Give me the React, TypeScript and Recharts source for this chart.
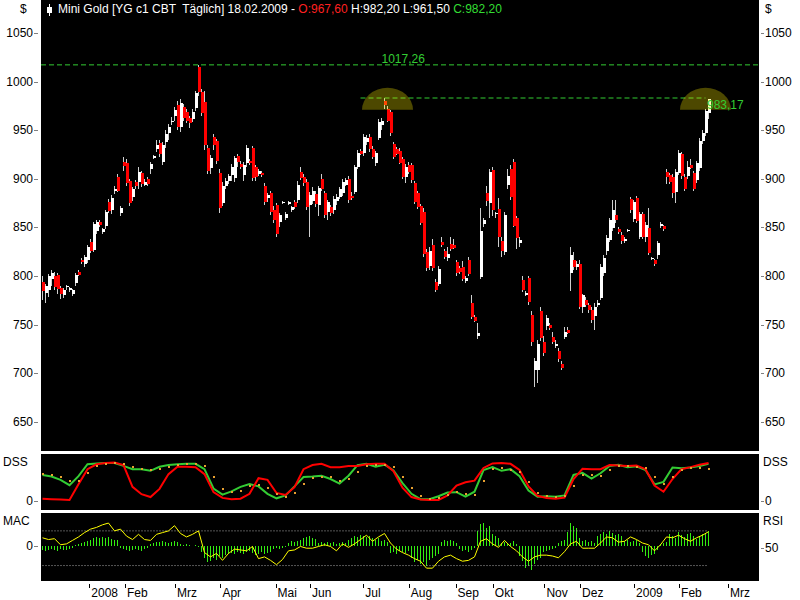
import React from "react";
import { ComposedChart, Bar, Line, XAxis, YAxis, ReferenceLine, ReferenceDot } from "recharts";

const FONT = '"Liberation Sans", Arial, sans-serif';

// one candle per session slot: [open, high, low, close]
const CANDLES_Q1 = [
  [794, 800, 775, 785], [783, 792, 772, 790], [786, 802, 778, 800], [797, 806, 790, 803], [800, 804, 786, 789],
  [801, 803, 782, 787], [788, 790, 776, 782], [781, 788, 777, 786], [789, 791, 786, 790], [786, 789, 784, 788],
  [782, 787, 779, 786], [793, 803, 790, 801], [804, 806, 800, 801], [817, 819, 812, 814], [812, 822, 809, 820],
  [816, 832, 813, 830], [835, 838, 824, 826], [827, 856, 825, 854], [846, 858, 843, 856], [856, 858, 850, 853],
  [845, 849, 843, 848], [851, 868, 848, 866], [876, 879, 865, 867], [868, 883, 864, 880], [887, 893, 884, 890],
  [902, 905, 886, 888], [865, 872, 862, 870], [917, 922, 908, 913], [916, 920, 893, 896], [898, 900, 872, 875],
  [881, 892, 877, 890], [897, 899, 890, 893], [897, 912, 890, 907], [906, 908, 892, 895], [894, 900, 893, 897],
  [900, 902, 893, 895], [910, 917, 905, 915], [921, 925, 920, 924], [931, 940, 928, 935], [937, 940, 922, 926],
  [917, 938, 914, 935], [938, 950, 932, 946], [947, 956, 940, 953], [958, 964, 955, 960], [965, 974, 960, 971],
  [976, 980, 950, 953], [953, 982, 948, 978], [974, 977, 960, 963], [969, 972, 957, 960], [963, 965, 952, 957],
  [962, 972, 958, 969], [973, 990, 970, 988], [1015, 1017, 985, 989], [989, 992, 965, 968], [979, 990, 930, 935],
  [932, 935, 905, 908], [911, 925, 905, 921], [943, 946, 930, 935], [939, 941, 915, 918], [906, 910, 865, 870],
];
const CANDLES_Q2 = [
  [875, 897, 872, 893], [893, 901, 890, 898], [898, 905, 895, 903], [904, 915, 898, 912], [901, 924, 897, 921],
  [924, 926, 912, 917], [915, 918, 910, 912], [904, 917, 898, 914], [916, 935, 912, 932], [918, 920, 914, 916],
  [932, 934, 898, 901], [912, 914, 898, 902], [905, 910, 903, 908], [906, 908, 902, 904], [893, 896, 873, 876],
  [880, 885, 876, 883], [885, 887, 863, 866], [868, 872, 855, 858], [873, 875, 840, 843], [856, 865, 850, 863],
  [875, 877, 874, 876], [860, 866, 858, 864], [874, 877, 873, 876], [868, 872, 866, 871], [876, 878, 869, 871],
  [878, 898, 875, 894], [907, 912, 899, 901], [902, 905, 893, 896], [897, 900, 868, 871], [873, 886, 840, 883],
  [877, 892, 874, 888], [884, 887, 871, 874], [873, 893, 862, 891], [900, 905, 888, 890], [885, 887, 860, 863],
  [866, 878, 858, 876], [871, 873, 862, 865], [868, 882, 864, 879], [877, 884, 873, 881], [881, 892, 879, 890],
  [885, 900, 882, 897], [894, 901, 893, 899], [900, 903, 875, 878], [882, 886, 878, 880], [886, 914, 884, 912],
  [912, 930, 910, 927], [929, 931, 925, 926], [927, 946, 924, 943], [938, 945, 935, 942], [943, 946, 928, 931],
  [931, 934, 920, 922], [916, 929, 913, 927], [942, 962, 940, 958], [955, 963, 950, 960],
];
const CANDLES_Q3 = [
  [980, 983, 972, 976], [972, 975, 958, 960], [969, 971, 944, 947], [936, 938, 920, 922], [931, 933, 925, 926],
  [929, 932, 915, 916], [920, 922, 900, 902], [902, 915, 896, 912], [914, 917, 905, 907], [914, 916, 896, 899],
  [896, 898, 874, 876], [885, 888, 869, 871], [872, 874, 853, 855], [866, 870, 820, 823], [825, 828, 805, 808],
  [810, 830, 806, 826], [832, 838, 805, 808], [794, 797, 784, 786], [792, 810, 790, 807], [835, 840, 830, 832],
  [826, 828, 818, 820], [819, 830, 815, 823], [833, 840, 826, 828], [832, 838, 828, 829], [814, 817, 800, 803],
  [808, 810, 802, 804], [809, 815, 795, 797], [795, 800, 793, 798], [816, 820, 800, 802], [772, 780, 756, 758],
  [758, 760, 753, 754], [738, 752, 735, 741], [799, 870, 797, 846], [854, 860, 850, 858], [885, 893, 872, 877],
  [875, 910, 860, 907], [909, 912, 862, 868], [864, 866, 860, 865], [869, 880, 830, 840], [836, 840, 820, 826],
  [825, 866, 822, 863], [894, 910, 890, 903], [910, 914, 878, 881], [917, 920, 850, 852], [860, 862, 828, 839],
  [834, 840, 830, 837], [796, 800, 784, 786], [781, 785, 779, 783], [798, 800, 770, 773], [760, 764, 728, 732],
  [703, 716, 686, 713], [703, 734, 690, 730], [764, 768, 733, 736], [732, 738, 718, 721], [749, 760, 745, 757],
  [750, 752, 745, 747], [737, 742, 730, 732], [728, 734, 726, 730], [723, 726, 712, 715], [710, 713, 703, 705],
  [737, 748, 735, 742], [745, 748, 740, 741],
];
const CANDLES_Q4 = [
  [803, 830, 785, 822], [817, 825, 806, 809], [809, 815, 806, 812], [812, 816, 766, 768], [768, 782, 762, 780],
  [775, 778, 768, 770], [770, 772, 762, 765], [765, 768, 752, 755], [759, 772, 745, 768], [770, 775, 768, 772],
  [777, 812, 775, 809], [803, 822, 800, 819], [826, 842, 822, 839], [837, 860, 835, 858], [849, 878, 846, 868],
  [863, 878, 855, 858], [848, 850, 843, 845], [842, 845, 833, 836], [836, 840, 834, 838], [846, 848, 845, 847],
  [879, 881, 865, 868], [859, 878, 856, 876], [880, 882, 855, 857], [840, 866, 838, 864], [864, 866, 838, 840],
  [840, 856, 835, 853], [849, 870, 822, 824], [818, 820, 816, 819], [816, 818, 810, 812], [822, 836, 818, 834],
  [851, 856, 849, 854], [851, 853, 846, 848], [907, 910, 895, 902], [904, 906, 895, 897], [902, 905, 880, 885],
  [886, 910, 875, 907], [906, 930, 904, 927], [926, 928, 900, 903], [902, 905, 888, 890], [903, 918, 900, 912],
  [914, 920, 910, 911], [906, 908, 888, 890], [899, 918, 896, 916], [911, 942, 908, 939], [939, 950, 936, 947],
  [947, 972, 944, 970], [967.6, 982.2, 961.5, 982.2],
];

// DSS, sampled every third slot
const DSS_LINE = [8, 7, 6, 5, 43, 80, 92, 95, 96, 90, 37, 19, 12, 32, 68, 86, 86, 85, 68, 24, 10, 7, 8, 20, 58,
  54, 22, 17, 36, 80, 90, 93, 85, 85, 88, 88, 92, 93, 93, 75, 35, 12, 6, 5, 5, 16, 40, 48, 52, 83, 94, 95, 93,
  78, 38, 15, 10, 8, 11, 56, 81, 80, 80, 90, 89, 88, 89, 80, 40, 25, 56, 80, 85, 91, 95];
const DSS_TRIGGER = [66, 62, 54, 41, 63, 92, 94, 95, 95, 88, 80, 80, 76, 86, 90, 92, 93, 93, 80, 33, 18, 26, 37,
  44, 38, 20, 9, 16, 38, 61, 62, 64, 56, 45, 64, 90, 93, 86, 91, 77, 46, 20, 7, 7, 14, 23, 24, 13, 25, 78, 85,
  76, 80, 63, 28, 13, 14, 13, 16, 66, 71, 57, 70, 88, 91, 85, 87, 78, 43, 49, 84, 82, 84, 88, 93];
const DSS_SIGNAL = [68, 65, 60, 52, 50, 70, 88, 93, 95, 92, 86, 80, 78, 80, 85, 90, 92, 93, 88, 60, 32, 24, 28,
  38, 42, 35, 20, 12, 22, 45, 58, 62, 60, 52, 55, 72, 88, 90, 89, 85, 62, 33, 15, 8, 10, 18, 24, 20, 16, 50, 80,
  84, 78, 72, 48, 22, 14, 13, 14, 40, 65, 66, 64, 78, 88, 88, 86, 83, 60, 45, 62, 78, 82, 83, 80];

// RSI, sampled every second slot
const RSI = [62, 60, 61, 54, 55, 59, 63, 68, 72, 74, 77, 79, 70, 72, 64, 60, 66, 60, 59, 66, 68, 70, 76, 67, 63,
  66, 70, 45, 40, 44, 36, 44, 49, 48, 47, 52, 38, 40, 36, 31, 37, 47, 48, 52, 50, 50, 52, 54, 52, 47, 55, 51, 55,
  60, 65, 58, 63, 67, 56, 49, 45, 42, 38, 35, 27, 27, 35, 40, 42, 38, 35, 36, 40, 58, 61, 55, 51, 59, 52, 47, 40,
  35, 40, 42, 42, 41, 39, 46, 55, 58, 50, 50, 50, 56, 63, 62, 57, 58, 63, 60, 56, 54, 47, 54, 63, 62, 65, 61, 58,
  62, 65, 69];

// MACD histogram, one per slot
const MACD_HIST = [
  -4, -5, -4, -3, -4, -5, -3, -4, -4, -3, -2, 1, 2, 3, 4, 5, 6, 8, 9, 8, 9, 8, 9, 7, 6, 6,
  -2, -3, -4, -5, -4, -3, -4, -5, -3, -2, 2, 3, 4, 4, 5, 4, 3, 4, 5, 4, 2, 1, 2, 1, 0, 1, -1,
  -6, -12, -16, -15, -12, -14, -10, -12, -9, -8, -7, -8, -6, -7, -8, -6, -5, -7, -9, -8, -6, -8, -7, -6,
  -3, -2, -3, -2, -1, 3, 5, 4, 5, 6, 8, 9, 10, 8, 7, 3, 4, 3, 4, 3, 4, 2, 3, 4, 3,
  6, 8, 10, 9, 11, 10, 9, 10, 8, 6, 8, 5, 6, 4, -7, -6, -8, -5, -6, -7, -5,
  -12, -16, -14, -18, -16, -20, -14, -12, -10, -8, 4, 6, 5, 6, 5, 3, -3, -5, -4, -6, -4, -2,
  15, 22, 23, 18, 20, 12, 10, 8, 3, 4, 2, 3, 5, 2, -10, -15, -22, -20, -24, -18, -14, -12,
  -6, -5, -4, -3, -2, 3, 5, 6, 14, 23, 20, 18, 8, 5, 6, 4, 5, 3,
  10, 12, 14, 12, 15, 13, 11, 12, 10, 5, 6, 4, 5, 6, 3, -6, -10, -12, -9, -8, -4, 2, 3, 4,
  12, 10, 8, 14, 11, 9, 12, 13, 10, 7, 9, 12, 13, 15,
];

const MONTH_SLOTS = [15.6, 27.5, 44.2, 59.3, 77.7, 89.2, 106.9, 122.1, 137.7, 150.1, 167.3, 179.2, 197.2, 212.2, 228.5];
const MONTH_LABELS = ["2008", "Feb", "Mrz", "Apr", "Mai", "Jun", "Jul", "Aug", "Sep", "Okt", "Nov", "Dez", "2009", "Feb", "Mrz"];
const PRICE_TICKS = [650, 700, 750, 800, 850, 900, 950, 1000, 1050];

const HIGH_LEVEL = 1017.26;
const RESIST_LEVEL = 983.17;
const ARC_SLOTS = [115, 221];
const ARC_BASE = 971;

const X_DOMAIN = [-0.5, 238.83];

const CANDLES = [...CANDLES_Q1, ...CANDLES_Q2, ...CANDLES_Q3, ...CANDLES_Q4];
const rows = CANDLES.map((k, i) => ({
  i,
  o: k[0], h: k[1], l: k[2], c: k[3],
  range: [k[2], k[1]],
  hist: MACD_HIST[i] ?? null,
  dss: i % 3 === 0 ? DSS_LINE[i / 3] ?? null : null,
  trig: i % 3 === 0 ? DSS_TRIGGER[i / 3] ?? null : null,
  sig: i % 3 === 0 ? DSS_SIGNAL[i / 3] ?? null : null,
  rsi: i % 2 === 0 ? RSI[i / 2] ?? null : null,
}));
const LAST = rows.length - 1;

const Candle = (props: any) => {
  const { x, y, width, height, payload } = props;
  if (!payload || height == null) return null;
  const { o, h, l, c } = payload;
  const top = Math.min(y, y + height);
  const span = Math.abs(height);
  const k = span / (h - l);
  const cx = Math.round(x + width / 2) - 0.5;
  const bTop = top + (h - Math.max(o, c)) * k;
  const bBot = top + (h - Math.min(o, c)) * k;
  return (
    <g shapeRendering="crispEdges">
      <line x1={cx} x2={cx} y1={top} y2={top + span} stroke="#cfcfcf" />
      <rect x={cx - 1} y={bTop} width={3} height={Math.max(1, bBot - bTop)} fill={c >= o ? "#ffffff" : "#ff0000"} />
    </g>
  );
};

const LeftTick = ({ y, payload }: any) => {
  const yy = Math.round(y) + 0.5;
  return (
    <g>
      <line x1={34} x2={38} y1={yy} y2={yy} stroke="#808080" />
      <text x={33} y={y} textAnchor="end" dominantBaseline="central" fontSize={12} fontFamily={FONT} fill="#000">
        {payload.value}
      </text>
    </g>
  );
};

const RightTick = ({ y, payload }: any) => {
  const yy = Math.round(y) + 0.5;
  return (
    <g>
      <line x1={761} x2={764} y1={yy} y2={yy} stroke="#808080" />
      <text x={765} y={y} dominantBaseline="central" fontSize={12} fontFamily={FONT} fill="#000">
        {payload.value}
      </text>
    </g>
  );
};

const MonthTick = ({ x, y, index }: any) => {
  const xx = Math.round(x) + 0.5;
  return (
    <g>
      <line x1={xx} x2={xx} y1={y + 3} y2={y + 7} stroke="#000" />
      <text x={x + 2} y={y + 16} fontSize={12} fontFamily={FONT} fill="#000">
        {MONTH_LABELS[index]}
      </text>
    </g>
  );
};

const Arc = ({ cx, cy }: any) => (
  <path d={`M ${cx - 25.5} ${cy} A 25.5 22 0 0 1 ${cx + 25.5} ${cy} Z`} fill="#ffee00" fillOpacity={0.3} />
);

const OrangeDot = (p: any) =>
  p.cy == null || p.value == null ? (
    <g key={p.key} />
  ) : (
    <rect key={p.key} x={Math.round(p.cx) - 1} y={Math.round(p.cy) - 1} width={2} height={2} fill="#e8a030" />
  );

const label = (text: string, style: React.CSSProperties) => (
  <div style={{ position: "absolute", fontSize: 12, fontFamily: FONT, lineHeight: "14px", whiteSpace: "pre", ...style }}>
    {text}
  </div>
);

const panel = (top: number, height: number) => (
  <div style={{ position: "absolute", left: 41, top, width: 718, height, background: "#000" }} />
);

export default function App() {
  return (
    <div style={{ position: "absolute", left: 0, top: 0, width: 800, height: 600, background: "#fff", overflow: "hidden" }}>
      {panel(0, 451)}
      {panel(454, 56)}
      {panel(513, 68)}

      {/* price panel */}
      <div style={{ position: "absolute", left: 0, top: 0 }}>
        <ComposedChart width={800} height={451} data={rows} margin={{ top: 0, right: 0, bottom: 0, left: 0 }}>
          <XAxis type="number" dataKey="i" domain={X_DOMAIN} hide allowDataOverflow />
          <YAxis yAxisId="p" domain={[620, 1084]} ticks={PRICE_TICKS} width={41} axisLine={false} tickLine={false} tick={<LeftTick />} interval={0} allowDataOverflow />
          <YAxis yAxisId="pr" orientation="right" domain={[620, 1084]} ticks={PRICE_TICKS} width={41} axisLine={false} tickLine={false} tick={<RightTick />} interval={0} allowDataOverflow />
          <Bar yAxisId="p" dataKey="range" barSize={3} shape={<Candle />} isAnimationActive={false} />
          {ARC_SLOTS.map((s) => (
            <ReferenceDot key={s} yAxisId="p" x={s} y={ARC_BASE} shape={<Arc />} />
          ))}
          <ReferenceLine yAxisId="p" y={HIGH_LEVEL} stroke="#33cc33" strokeDasharray="5 3" />
          <ReferenceLine
            yAxisId="p"
            segment={[{ x: 106, y: RESIST_LEVEL }, { x: ARC_SLOTS[1], y: RESIST_LEVEL }]}
            stroke="#33cc33"
            strokeDasharray="5 3"
          />
          <ReferenceDot
            yAxisId="p"
            x={113}
            y={HIGH_LEVEL}
            shape={(p: any) => (
              <text x={p.cx} y={p.cy - 2} fontSize={12} fontFamily={FONT} fill="#33cc33">1017,26</text>
            )}
          />
          <ReferenceDot
            yAxisId="p"
            x={LAST - 1}
            y={RESIST_LEVEL}
            shape={(p: any) => (
              <text x={p.cx + 1.5} y={p.cy + 11} fontSize={12} fontFamily={FONT} fill="#33cc33">983,17</text>
            )}
          />
        </ComposedChart>
      </div>

      {/* DSS panel */}
      <div style={{ position: "absolute", left: 0, top: 454 }}>
        <ComposedChart width={800} height={56} data={rows} margin={{ top: 0, right: 0, bottom: 0, left: 0 }}>
          <XAxis type="number" dataKey="i" domain={X_DOMAIN} hide allowDataOverflow />
          <YAxis yAxisId="d" domain={[-19.5, 117]} ticks={[0]} width={41} axisLine={false} tickLine={false} tick={<LeftTick />} allowDataOverflow />
          <YAxis yAxisId="dr" orientation="right" domain={[-19.5, 117]} ticks={[0]} width={41} axisLine={false} tickLine={false} tick={<RightTick />} allowDataOverflow />
          <Line yAxisId="d" dataKey="sig" stroke="none" strokeWidth={0} dot={OrangeDot} connectNulls isAnimationActive={false} />
          <Line yAxisId="d" dataKey="trig" stroke="#33cc33" strokeWidth={2} dot={false} connectNulls isAnimationActive={false} />
          <Line yAxisId="d" dataKey="dss" stroke="#ff0000" strokeWidth={2} dot={false} connectNulls isAnimationActive={false} />
        </ComposedChart>
      </div>

      {/* MACD / RSI panel */}
      <div style={{ position: "absolute", left: 0, top: 513 }}>
        <ComposedChart width={800} height={88} data={rows} margin={{ top: 0, right: 0, bottom: 0, left: 0 }}>
          <XAxis
            type="number"
            dataKey="i"
            domain={X_DOMAIN}
            ticks={MONTH_SLOTS}
            interval={0}
            height={20}
            axisLine={false}
            tickLine={false}
            tickSize={0}
            tickMargin={0}
            tick={<MonthTick />}
            allowDataOverflow
          />
          <YAxis yAxisId="m" domain={[-34.7, 32.7]} ticks={[0]} width={41} axisLine={false} tickLine={false} tick={<LeftTick />} allowDataOverflow />
          <YAxis yAxisId="r" orientation="right" domain={[12.2, 90.6]} ticks={[50]} width={41} axisLine={false} tickLine={false} tick={<RightTick />} allowDataOverflow />
          <ReferenceLine yAxisId="r" segment={[{ x: 0, y: 70 }, { x: LAST, y: 70 }]} stroke="#aaaaaa" strokeDasharray="1 2" />
          <ReferenceLine yAxisId="r" segment={[{ x: 0, y: 30 }, { x: LAST, y: 30 }]} stroke="#aaaaaa" strokeDasharray="1 2" />
          <Bar yAxisId="m" dataKey="hist" barSize={1} fill="#33ee11" shapeRendering="crispEdges" isAnimationActive={false} />
          <Line yAxisId="r" dataKey="rsi" stroke="#ffff00" strokeWidth={1} dot={false} connectNulls isAnimationActive={false} />
        </ComposedChart>
      </div>

      {/* title and side labels */}
      <svg style={{ position: "absolute", left: 0, top: 0 }} width={60} height={20}>
        <line x1={49.5} x2={49.5} y1={4} y2={16} stroke="#fff" />
        <rect x={47} y={7} width={5} height={6} fill="#fff" />
      </svg>
      <div style={{ position: "absolute", left: 58, top: 2, color: "#fff", fontSize: 12, fontFamily: FONT, lineHeight: "14px", whiteSpace: "pre" }}>
        {"Mini Gold [YG c1 CBT  Täglich] 18.02.2009 - "}
        <span style={{ color: "#ff2020" }}>O:967,60</span>
        {" H:982,20 L:961,50 "}
        <span style={{ color: "#33dd33" }}>C:982,20</span>
      </div>
      {label("$", { left: 20, top: 2, color: "#000" })}
      {label("$", { left: 765, top: 2, color: "#000" })}
      {label("DSS", { left: 3, top: 455, color: "#000" })}
      {label("DSS", { left: 763, top: 455, color: "#000" })}
      {label("MAC", { left: 3, top: 514, color: "#000" })}
      {label("RSI", { left: 763, top: 514, color: "#000" })}
    </div>
  );
}
